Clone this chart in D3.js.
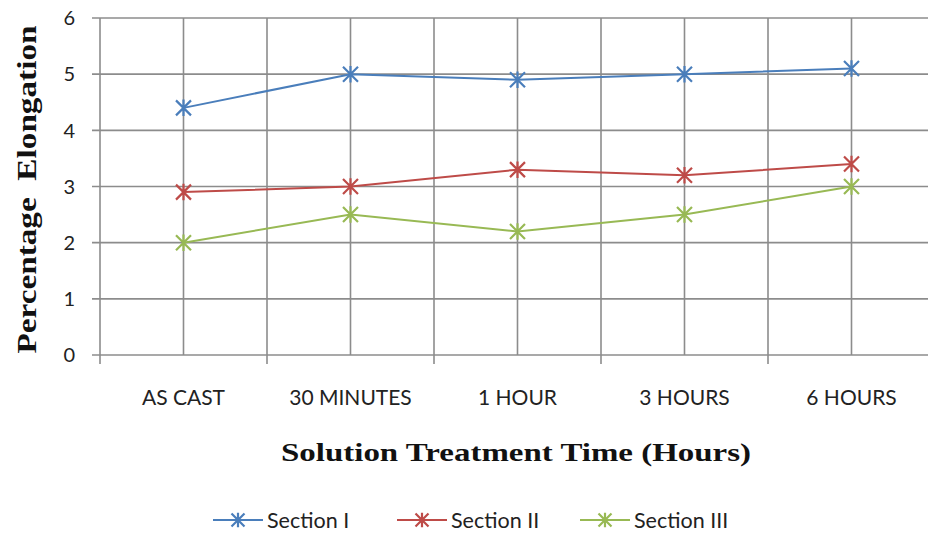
<!DOCTYPE html>
<html>
<head>
<meta charset="utf-8">
<script src="https://cdn.jsdelivr.net/npm/d3@7"></script>
<style>
  body { margin: 0; background: #fff; }
  svg { display: block; }
</style>
</head>
<body>
<svg width="928" height="534"></svg>
<script>
var categories = ["AS CAST", "30 MINUTES", "1 HOUR", "3 HOURS", "6 HOURS"];
var sectionI = [4.4, 5.0, 4.9, 5.0, 5.1];
var sectionII = [2.9, 3.0, 3.3, 3.2, 3.4];
var sectionIII = [2.0, 2.5, 2.2, 2.5, 3.0];
var yTicks = [0, 1, 2, 3, 4, 5, 6];

var series = [
  {name: "Section I", values: sectionI, color: "#4a7ebb"},
  {name: "Section II", values: sectionII, color: "#be4b48"},
  {name: "Section III", values: sectionIII, color: "#98b954"}
];

var svg = d3.select("svg");
var plotLeft = 100, plotRight = 935, plotTop = 18, plotBottom = 355;
var gridColor = "#8c8c8c";
var tickFont = "Lato, 'Open Sans', sans-serif";
var titleFont = "'Liberation Serif', 'DejaVu Serif', serif";

var x = d3.scaleBand().domain(categories).range([plotLeft, plotRight]);
var y = d3.scaleLinear().domain([0, 6]).range([plotBottom, plotTop]);

// horizontal gridlines
svg.append("g").selectAll("line")
  .data(yTicks).enter().append("line")
  .attr("x1", plotLeft - 8).attr("x2", plotRight)
  .attr("y1", function(d) { return y(d); })
  .attr("y2", function(d) { return y(d); })
  .attr("stroke", gridColor).attr("stroke-width", 1.6);

// vertical gridlines at category boundaries and centres
var bounds = categories.map(function(c) { return x(c); }).concat([plotRight]);
svg.append("g").selectAll("line")
  .data(bounds).enter().append("line")
  .attr("x1", function(d) { return d; }).attr("x2", function(d) { return d; })
  .attr("y1", plotTop).attr("y2", plotBottom + 9)
  .attr("stroke", gridColor).attr("stroke-width", 1.6);
svg.append("g").selectAll("line")
  .data(categories).enter().append("line")
  .attr("x1", function(d) { return x(d) + x.bandwidth() / 2; })
  .attr("x2", function(d) { return x(d) + x.bandwidth() / 2; })
  .attr("y1", plotTop).attr("y2", plotBottom)
  .attr("stroke", gridColor).attr("stroke-width", 1.6);

// y tick labels
svg.append("g").selectAll("text")
  .data(yTicks).enter().append("text")
  .attr("x", 75).attr("y", function(d) { return y(d); })
  .attr("dy", "0.36em").attr("text-anchor", "end")
  .attr("font-family", tickFont).attr("font-size", 20).attr("fill", "#222")
  .text(function(d) { return d; });

// x tick labels
svg.append("g").selectAll("text")
  .data(categories).enter().append("text")
  .attr("x", function(d) { return x(d) + x.bandwidth() / 2; })
  .attr("y", 405).attr("text-anchor", "middle")
  .attr("font-family", tickFont).attr("font-size", 21).attr("fill", "#222")
  .text(function(d) { return d; });

// axis titles
svg.append("text")
  .attr("transform", "translate(36," + ((plotTop + plotBottom) / 2 + 3) + ") rotate(-90)")
  .attr("text-anchor", "middle")
  .attr("font-family", titleFont).attr("font-weight", "bold").attr("font-size", 27)
  .attr("fill", "#111").attr("xml:space", "preserve")
  .attr("textLength", 328).attr("lengthAdjust", "spacingAndGlyphs")
  .text("Percentage  Elongation");

svg.append("text")
  .attr("x", 516).attr("y", 461).attr("text-anchor", "middle")
  .attr("font-family", titleFont).attr("font-weight", "bold").attr("font-size", 26)
  .attr("fill", "#111")
  .attr("textLength", 470).attr("lengthAdjust", "spacingAndGlyphs")
  .text("Solution Treatment Time (Hours)");

function asterisk(g, cx, cy, r, color) {
  var d = "M" + (cx - r) + "," + (cy - r) + "L" + (cx + r) + "," + (cy + r) +
    "M" + (cx - r) + "," + (cy + r) + "L" + (cx + r) + "," + (cy - r) +
    "M" + cx + "," + (cy - r * 1.1) + "L" + cx + "," + (cy + r * 1.1);
  g.append("path").attr("d", d).attr("stroke", color).attr("stroke-width", 2.2).attr("fill", "none");
}

var line = d3.line()
  .x(function(d, i) { return x(categories[i]) + x.bandwidth() / 2; })
  .y(function(d) { return y(d); });

series.forEach(function(s) {
  var g = svg.append("g");
  g.append("path").datum(s.values)
    .attr("d", line).attr("fill", "none")
    .attr("stroke", s.color).attr("stroke-width", 2);
  s.values.forEach(function(v, i) {
    asterisk(g, x(categories[i]) + x.bandwidth() / 2, y(v), 7.5, s.color);
  });
});

// legend
var legendX = [213, 397, 580];
series.forEach(function(s, i) {
  var g = svg.append("g");
  var lx = legendX[i], ly = 520;
  g.append("line").attr("x1", lx).attr("x2", lx + 50).attr("y1", ly).attr("y2", ly)
    .attr("stroke", s.color).attr("stroke-width", 2);
  asterisk(g, lx + 25, ly, 6.5, s.color);
  g.append("text").attr("x", lx + 54).attr("y", ly).attr("dy", "0.36em")
    .attr("font-family", tickFont).attr("font-size", 21.5).attr("fill", "#222")
    .text(s.name);
});
</script>
</body>
</html>
